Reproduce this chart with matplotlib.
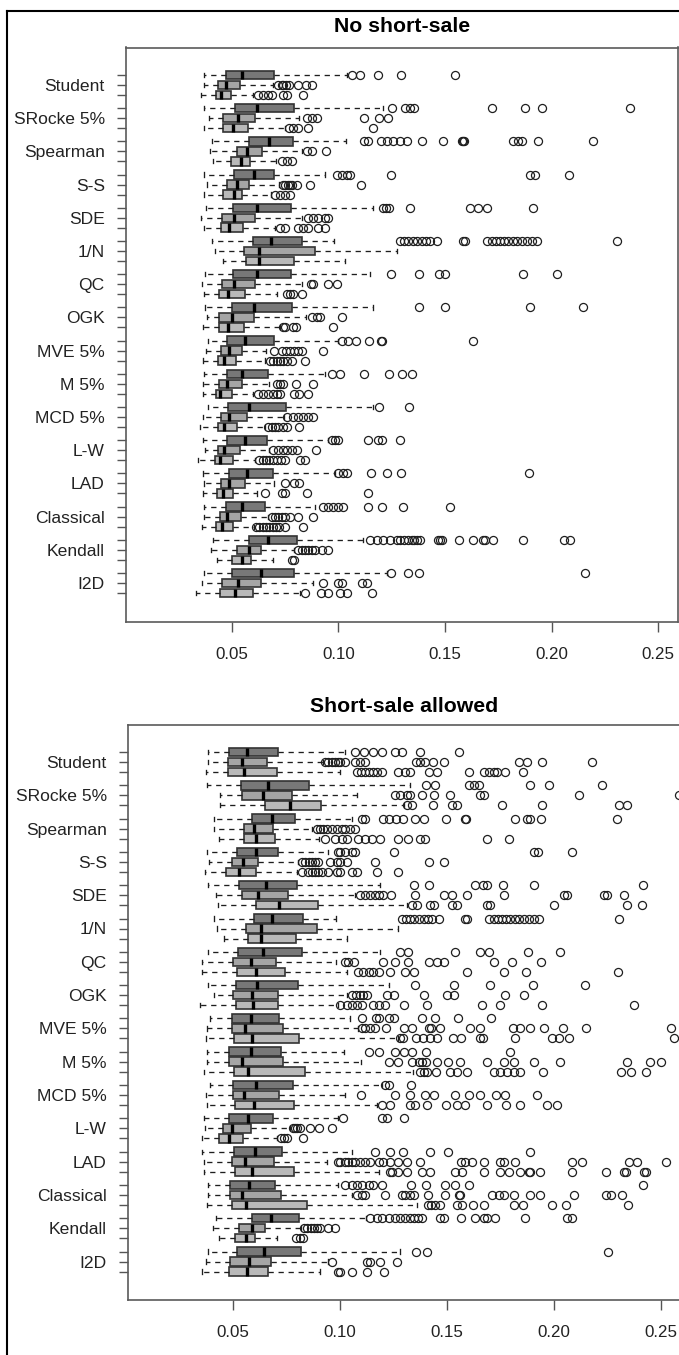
import matplotlib
matplotlib.use('Agg')
import matplotlib.pyplot as plt
from matplotlib.lines import Line2D

plt.rcParams['font.family'] = ['Liberation Sans', 'DejaVu Sans']

# ---------------- data ----------------
methods = ['Student', 'SRocke 5%', 'Spearman', 'S-S', 'SDE', '1/N', 'QC', 'OGK',
           'MVE 5%', 'M 5%', 'MCD 5%', 'L-W', 'LAD', 'Classical', 'Kendall', 'I2D']
x_ticks = [0.05, 0.10, 0.15, 0.20, 0.25]
x_tick_labels = ['0.05', '0.10', '0.15', '0.20', '0.25']
titles = ['No short-sale', 'Short-sale allowed']

# ---- No short-sale: [group][box] (3 boxes per method) ----
ns_wlo = [[.0370, .0370, .0356], [.0370, .0394, .0370], [.0409, .0398, .0414], [.0370, .0383, .0370],
          [.0378, .0356, .0370], [.0409, .0422, .0458], [.0375, .0359, .0370], [.0375, .0386, .0364],
          [.0391, .0380, .0367], [.0370, .0364, .0364], [.0391, .0367, .0352], [.0367, .0375, .0341],
          [.0364, .0370, .0364], [.0370, .0370, .0359], [.0414, .0402, .0430], [.0370, .0359, .0333]]
ns_q1 = [[.0475, .0437, .0427], [.0516, .0458, .0458], [.0583, .0527, .0495], [.0513, .0480, .0458],
         [.0505, .0453, .0448], [.0598, .0558, .0567], [.0505, .0453, .0442], [.0500, .0442, .0442],
         [.0480, .0448, .0437], [.0477, .0442, .0427], [.0484, .0448, .0437], [.0477, .0437, .0422],
         [.0489, .0448, .0430], [.0473, .0445, .0427], [.0583, .0527, .0500], [.0500, .0453, .0445]]
ns_med = [[.0550, .0475, .0450], [.0620, .0531, .0505], [.0677, .0573, .0542], [.0605, .0527, .0513],
          [.0620, .0511, .0489], [.0683, .0630, .0630], [.0620, .0511, .0484], [.0605, .0500, .0484],
          [.0563, .0489, .0464], [.0550, .0477, .0445], [.0583, .0489, .0464], [.0563, .0464, .0445],
          [.0570, .0489, .0461], [.0550, .0480, .0453], [.0672, .0583, .0547], [.0636, .0531, .0516]]
ns_q3 = [[.0699, .0539, .0497], [.0792, .0609, .0578], [.0789, .0641, .0586], [.0699, .0581, .0550],
         [.0777, .0609, .0552], [.0828, .0891, .0792], [.0780, .0609, .0563], [.0781, .0605, .0558],
         [.0699, .0547, .0520], [.0672, .0547, .0500], [.0755, .0573, .0527], [.0667, .0539, .0505],
         [.0695, .0563, .0508], [.0656, .0542, .0505], [.0808, .0636, .0589], [.0792, .0636, .0598]]
ns_whi = [[.1039, .0695, .0602], [.1208, .0817, .0750], [.1036, .0828, .0708], [.0938, .0723, .0683],
          [.1161, .0828, .0703], [.0981, .1273, .1031], [.1148, .0828, .0711], [.1164, .0849, .0725],
          [.0998, .0661, .0656], [.0938, .0677, .0602], [.1164, .0745, .0656], [.0953, .0677, .0609],
          [.0984, .0698, .0617], [.0891, .0672, .0605], [.1117, .0792, .0692], [.1227, .0883, .0820]]
ns_out = [
    [[.1062, .1101, .1184, .1294, .1547],
     [.0719, .0734, .0742, .0755, .0767, .0809, .0849, .0875],
     [.0625, .0648, .0672, .0688, .0742, .0758, .0833]],
    [[.1250, .1312, .1336, .1355, .1722, .1875, .1953, .2367],
     [.0852, .0875, .0898, .1120, .1192, .1234],
     [.0770, .0789, .0813, .0860, .1161]],
    [[.1120, .1140, .1198, .1226, .1258, .1289, .1320, .1390, .1490, .1580, .1586, .1590,
      .1820, .1844, .1860, .1938, .2192],
     [.0852, .0875, .0942],
     [.0734, .0758, .0781]],
    [[.0992, .1016, .1039, .1055, .1245, .1898, .1922, .2083],
     [.0742, .0752, .0762, .0772, .0782, .0805, .0867, .1105],
     [.0703, .0727, .0750, .0773]],
    [[.1208, .1223, .1239, .1336, .1617, .1656, .1695, .1914],
     [.0859, .0883, .0906, .0938, .0953],
     [.0727, .0750, .0813, .0836, .0859, .0906, .0938]],
    [[.1289, .1308, .1328, .1348, .1370, .1391, .1411, .1430, .1461, .1586, .1594, .1695,
      .1719, .1739, .1758, .1777, .1797, .1817, .1836, .1859, .1883, .1906, .1930, .2305],
     [],
     []],
    [[.1245, .1380, .1473, .1500, .1864, .2027],
     [.0870, .0883, .0953, .0995],
     [.0758, .0773, .0786, .0828]],
    [[.1377, .1500, .1898, .2148],
     [.0875, .0898, .0914, .1016],
     [.0741, .0752, .0786, .0800, .0977]],
    [[.1016, .1045, .1083, .1145, .1198, .1205, .1633],
     [.0698, .0734, .0755, .0773, .0792, .0813, .0828, .0927],
     [.0680, .0695, .0711, .0727, .0742, .0758, .0781, .0844]],
    [[.0969, .1008, .1120, .1239, .1297, .1344],
     [.0714, .0727, .0739, .0802, .0880],
     [.0625, .0648, .0672, .0692, .0711, .0727, .0792, .0817, .0860]],
    [[.1192, .1333],
     [.0761, .0786, .0809, .0836, .0859, .0880],
     [.0672, .0688, .0703, .0719, .0739, .0761, .0817]],
    [[.0969, .0984, .1000, .1140, .1187, .1203, .1289],
     [.0695, .0719, .0742, .0761, .0781, .0805, .0895],
     [.0630, .0645, .0661, .0677, .0692, .0711, .0730, .0750, .0820, .0844]],
    [[.1000, .1020, .1039, .1152, .1227, .1292, .1895],
     [.0750, .0792, .0817],
     [.0656, .0734, .0750, .0852, .1140]],
    [[.0927, .0953, .0977, .1000, .1020, .1140, .1203, .1305, .1523],
     [.0688, .0703, .0719, .0734, .0750, .0773, .0813, .0880],
     [.0614, .0630, .0645, .0661, .0677, .0692, .0708, .0723, .0750, .0836]],
    [[.1148, .1180, .1208, .1242, .1277, .1289, .1308, .1328, .1344, .1355, .1367, .1383,
      .1469, .1477, .1484, .1567, .1633, .1677, .1688, .1727, .1864, .2058, .2086],
     [.0813, .0828, .0844, .0859, .0875, .0891, .0922, .0953],
     [.0781, .0792]],
    [[.1245, .1328, .1380, .2156],
     [.0927, .1000, .1016, .1109, .1133],
     [.0844, .0917, .0953, .1008, .1039, .1156]],
]

# ---- Short-sale allowed ----
ss_wlo = [[.0383, .0383, .0372], [.0375, .0438, .0438], [.0411, .0411, .0434], [.0378, .0387, .0367],
          [.0383, .0419, .0430], [.0409, .0422, .0458], [.0383, .0356, .0356], [.0383, .0411, .0344],
          [.0391, .0378, .0372], [.0378, .0378, .0362], [.0391, .0372, .0378], [.0362, .0367, .0352],
          [.0352, .0362, .0362], [.0383, .0383, .0378], [.0419, .0406, .0434], [.0383, .0372, .0352]]
ss_q1 = [[.0481, .0477, .0477], [.0534, .0539, .0648], [.0586, .0550, .0550], [.0516, .0492, .0466],
         [.0528, .0539, .0606], [.0598, .0558, .0567], [.0523, .0497, .0519], [.0513, .0497, .0513],
         [.0492, .0492, .0503], [.0481, .0481, .0503], [.0497, .0497, .0508], [.0481, .0450, .0434],
         [.0503, .0492, .0508], [.0484, .0484, .0492], [.0586, .0528, .0508], [.0519, .0484, .0481]]
ss_med = [[.0563, .0539, .0550], [.0664, .0638, .0766], [.0680, .0597, .0606], [.0606, .0544, .0528],
          [.0653, .0617, .0716], [.0683, .0630, .0630], [.0638, .0581, .0606], [.0613, .0586, .0591],
          [.0581, .0555, .0586], [.0581, .0539, .0570], [.0606, .0550, .0597], [.0570, .0492, .0481],
          [.0602, .0555, .0586], [.0575, .0539, .0559], [.0675, .0586, .0559], [.0644, .0575, .0566]]
ss_q3 = [[.0711, .0659, .0706], [.0856, .0773, .0909], [.0789, .0684, .0695], [.0711, .0617, .0606],
         [.0800, .0758, .0898], [.0828, .0891, .0792], [.0820, .0700, .0742], [.0805, .0711, .0711],
         [.0716, .0731, .0809], [.0722, .0731, .0836], [.0781, .0716, .0784], [.0684, .0581, .0544],
         [.0727, .0691, .0784], [.0695, .0722, .0847], [.0809, .0648, .0602], [.0816, .0675, .0664]]
ss_whi = [[.1023, .0919, .1000], [.1325, .1078, .1297], [.1055, .0867, .0903], [.0945, .0805, .0797],
          [.1188, .1070, .1313], [.0981, .1273, .1031], [.1188, .0981, .1031], [.1231, .1034, .0992],
          [.1047, .1086, .1273], [.1016, .1097, .1341], [.1195, .1023, .1172], [.0988, .0766, .0703],
          [.1055, .0941, .1184], [.0992, .1055, .1362], [.1122, .0816, .0703], [.1278, .0945, .0906]]
ss_out = [
    [[.1070, .1113, .1153, .1195, .1258, .1289, .1375, .1555],
     [.0930, .0945, .0961, .0977, .0992, .1000, .1023, .1070, .1094, .1117, .1356, .1375, .1398,
      .1437, .1484, .1836, .1875, .1945, .2180],
     [.1078, .1097, .1117, .1137, .1156, .1175, .1195, .1269, .1305, .1325, .1414, .1453, .1602,
      .1675, .1695, .1719, .1734, .1773, .1856]],
    [[.1403, .1445, .1602, .1625, .1648, .1888, .1977, .2227],
     [.1258, .1281, .1313, .1328, .1383, .1441, .1516, .1656, .1675, .2117, .2586],
     [.1313, .1336, .1434, .1523, .1547, .1758, .1945, .2305, .2344]],
    [[.1102, .1117, .1200, .1231, .1263, .1294, .1352, .1391, .1497, .1586, .1590, .1820,
      .1875, .1888, .1938, .2294],
     [.0891, .0906, .0922, .0938, .0961, .0984, .1008, .1023, .1047, .1070],
     [.0930, .0977, .1008, .1031, .1086, .1117, .1148, .1188, .1273, .1320, .1375, .1398,
      .1688, .1789]],
    [[.0992, .1000, .1023, .1055, .1070, .1250, .1906, .1925, .2086],
     [.0822, .0838, .0853, .0869, .0883, .0898, .0953, .0984, .1000, .1031, .1164, .1414, .1484],
     [.0820, .0852, .0867, .0883, .0898, .0914, .0945, .0984, .1000, .1055, .1078, .1172, .1273]],
    [[.1347, .1414, .1633, .1669, .1688, .1763, .1906, .2419],
     [.1094, .1117, .1141, .1164, .1184, .1203, .1237, .1352, .1484, .1523, .1594, .1766,
      .2050, .2063, .2234, .2250, .2328],
     [.1336, .1359, .1422, .1441, .1523, .1547, .1688, .1703, .2000, .2344, .2414]],
    [[.1289, .1308, .1328, .1348, .1370, .1391, .1411, .1430, .1461, .1586, .1594, .1695,
      .1719, .1739, .1758, .1777, .1797, .1817, .1836, .1859, .1883, .1906, .1930, .2305],
     [],
     []],
    [[.1281, .1320, .1539, .1656, .1695, .1878, .2031],
     [.1023, .1039, .1063, .1203, .1258, .1320, .1414, .1453, .1484, .1719, .1805, .1938],
     [.1086, .1109, .1133, .1156, .1180, .1234, .1305, .1344, .1594, .1766, .1872, .2300]],
    [[.1352, .1531, .1700, .1903, .2148],
     [.1055, .1075, .1094, .1109, .1125, .1219, .1250, .1391, .1500, .1531, .1773, .1859],
     [.1000, .1031, .1055, .1078, .1102, .1156, .1180, .1211, .1297, .1406, .1664, .1747,
      .1945, .2375]],
    [[.1102, .1169, .1180, .1227, .1250, .1383, .1445, .1550, .1706],
     [.1102, .1117, .1141, .1164, .1216, .1297, .1336, .1414, .1425, .1469, .1609, .1656,
      .1809, .1844, .1891, .1956, .2044, .2153, .2547],
     [.1281, .1294, .1356, .1388, .1422, .1453, .1528, .1566, .1653, .1669, .1820, .1992,
      .2023, .2070, .2563]],
    [[.1133, .1180, .1258, .1297, .1336, .1403, .1794],
     [.1227, .1273, .1336, .1367, .1383, .1403, .1453, .1503, .1563, .1688, .1766, .1813,
      .1906, .2031, .2341, .2450, .2503],
     [.1375, .1391, .1406, .1450, .1516, .1547, .1594, .1722, .1750, .1781, .1816, .1844,
      .1950, .2313, .2360, .2430]],
    [[.1211, .1231, .1331],
     [.1097, .1258, .1328, .1398, .1438, .1539, .1602, .1656, .1731, .1773, .1922],
     [.1195, .1234, .1328, .1352, .1406, .1497, .1547, .1586, .1688, .1778, .1844, .1966, .2016]],
    [[.1013, .1195, .1219, .1297],
     [.0778, .0789, .0800, .0813, .0859, .0903, .0961],
     [.0722, .0738, .0753, .0825]],
    [[.1164, .1234, .1294, .1422, .1505, .1891],
     [.0992, .1000, .1023, .1039, .1055, .1070, .1094, .1117, .1141, .1180, .1203, .1234,
      .1273, .1313, .1375, .1566, .1586, .1617, .1672, .1750, .1766, .1820, .2086, .2133,
      .2352, .2391, .2523],
     [.1234, .1242, .1273, .1313, .1383, .1422, .1539, .1570, .1672, .1747, .1789, .1841,
      .1883, .1891, .1934, .2086, .2242, .2328, .2336, .2422, .2430]],
    [[.1023, .1055, .1078, .1102, .1133, .1156, .1195, .1331, .1403, .1492, .1539, .1602, .2419],
     [.1078, .1102, .1117, .1211, .1289, .1305, .1328, .1347, .1409, .1492, .1555, .1563,
      .1711, .1742, .1766, .1813, .1888, .1934, .2094, .2242, .2266, .2320],
     [.1409, .1425, .1445, .1469, .1547, .1570, .1622, .1672, .1813, .1856, .1992, .2055, .2347]],
    [[.1140, .1172, .1195, .1227, .1258, .1281, .1305, .1328, .1347, .1363, .1383, .1469,
      .1484, .1566, .1633, .1672, .1688, .1727, .1863, .2063, .2086],
     [.0831, .0847, .0863, .0878, .0894, .0906, .0945, .0977],
     [.0794, .0813, .0828]],
    [[.1356, .1406, .2253],
     [.0961, .1128, .1141, .1188, .1266],
     [.0992, .1000, .1055, .1125, .1206]],
]

# ---------------- style ----------------
fills = ['#787878', '#a5a5a5', '#b9b9b9']
W, H = 679, 1355
GROUP_STEP = 3.33
positions = [i * GROUP_STEP + j for i in range(len(methods)) for j in range(3)]


def frac(l, t, r, b):
    return [l / W, 1 - b / H, (r - l) / W, (b - t) / H]


fig = plt.figure(figsize=(W / 100, H / 100), dpi=100)
fig.patch.set_facecolor('white')


def draw(ax, wlo, q1, med, q3, whi, out, xlim, ylim):
    stats = []
    for i in range(len(methods)):
        for j in range(3):
            stats.append(dict(whislo=wlo[i][j], q1=q1[i][j], med=med[i][j], q3=q3[i][j],
                              whishi=whi[i][j], fliers=out[i][j]))
    kw = dict(positions=positions, widths=0.85, patch_artist=True, showfliers=True,
              capwidths=0.42,
              boxprops=dict(edgecolor='#333333', linewidth=1.2),
              medianprops=dict(color='black', linewidth=2.4, solid_capstyle='butt'),
              whiskerprops=dict(color='#1e1e1e', linewidth=0.95, linestyle=(0, (4, 3.6))),
              capprops=dict(color='#1e1e1e', linewidth=0.95),
              flierprops=dict(marker='o', markerfacecolor='none', markeredgecolor='#1e1e1e',
                              markersize=5.8, markeredgewidth=0.9, linestyle='none'))
    try:
        bp = ax.bxp(stats, orientation='horizontal', **kw)
    except TypeError:
        bp = ax.bxp(stats, vert=False, **kw)
    for k, b in enumerate(bp['boxes']):
        b.set_facecolor(fills[k % 3])
    ax.set_xlim(*xlim)
    ax.set_ylim(*ylim)
    ax.set_yticks(positions)
    ax.set_yticklabels([methods[k // 3] if k % 3 == 1 else '' for k in range(len(positions))])
    ax.set_xticks(x_ticks)
    ax.set_xticklabels(x_tick_labels)
    ax.tick_params(axis='y', length=6.5, width=1.0, color='#555555', pad=8.5,
                   labelsize=12.6, labelcolor='#222222')
    ax.tick_params(axis='x', length=7.2, width=1.0, color='#555555', pad=11,
                   labelsize=12.2, labelcolor='#222222')
    for s in ax.spines.values():
        s.set_color('#5a5a5a')
        s.set_linewidth(1.2)


ax1 = fig.add_axes(frac(125.7, 47.5, 677.7, 622))
draw(ax1, ns_wlo, ns_q1, ns_med, ns_q3, ns_whi, ns_out,
     (0.0003, 0.2591), (positions[-1] + 2.9, -2.75))

ax2 = fig.add_axes(frac(127.7, 725, 682, 1300))
draw(ax2, ss_wlo, ss_q1, ss_med, ss_q3, ss_whi, ss_out,
     (0.0006, 0.2600), (positions[-1] + 2.85, -2.7))
ax2.spines['right'].set_visible(False)

fig.text(401.7 / W, 1 - 27 / H, titles[0], ha='center', va='center',
         fontsize=15.3, fontweight='bold', color='black')
fig.text(404 / W, 1 - 707 / H, titles[1], ha='center', va='center',
         fontsize=15.3, fontweight='bold', color='black')

# outer frame lines (left and top)
fig.add_artist(Line2D([7.3 / W, 7.3 / W], [0, 1 - 10.5 / H], transform=fig.transFigure,
                      color='black', linewidth=1.5))
fig.add_artist(Line2D([7.3 / W, 1], [1 - 10.5 / H, 1 - 10.5 / H], transform=fig.transFigure,
                      color='black', linewidth=1.5))

fig.savefig('out.png', dpi=100, facecolor='white')
